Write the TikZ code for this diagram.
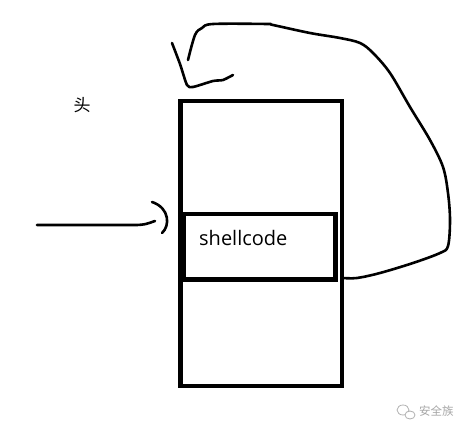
\documentclass[tikz,border=0pt]{standalone}
\usepackage{fontspec}
\newfontfamily\cjkfont{Noto Sans CJK SC}
\newfontfamily\uifont{Open Sans}
\begin{document}
\begin{tikzpicture}[x=1pt,y=-1pt,
  boxline/.style={draw=black,line width=4.5pt,minimum width=0pt,inner sep=0pt},
  pen/.style={draw=black,line width=2.6pt,line cap=round,line join=round},
  wm/.style={text=black!35}]
\useasboundingbox[fill=white] (0,0) rectangle (469,433);
% stack frame
\node[boxline,minimum width=161.5pt,minimum height=285pt] (stack) at (261.25,243.5) {};
\node[boxline,minimum width=151.5pt,minimum height=65.5pt] (sc) at (259.75,246.75) {};
\node[anchor=base west,inner sep=0pt,font=\uifont\fontsize{20}{20}\selectfont] (sctext) at (199,246) {shellcode};
% label
\node[font=\cjkfont\fontsize{17}{17}\selectfont] (head) at (82,105) {头};
% left arrow
\coordinate (src) at (37,225);
\coordinate (tip) at (155,221);
\draw[pen] (src) -- (137,225) .. controls (145,224.5) .. (tip);
\draw[pen] (152,202) .. controls (170,208) and (170,226) .. (162,233);
% loop back arrow
\draw[pen] plot[smooth,tension=0.55] coordinates {(343,278) (357,278) (380,273) (413,263) (440,253) (448,246) (450,220) (448,193) (443,167) (430,140) (410,107) (390,73) (373,53) (360,43) (340,38) (310,33) (273,25) (267,24) (213,24) (202,28) (195,35) (188,60)};
\draw[pen] plot[smooth,tension=0.4] coordinates {(172,43) (180,64) (187,85) (193,87) (213,81) (223,80) (233,75)};
% watermark
\draw[black!30,line width=0.8pt] (403,410) ellipse (6pt and 5pt);
\draw[black!30,line width=0.8pt,fill=white] (410,415) ellipse (5pt and 4pt);
\node[wm,anchor=west,inner sep=0pt,font=\cjkfont\fontsize{11.5}{11.5}\selectfont] (wmtext) at (419,411) {安全族};
\end{tikzpicture}
\end{document}
